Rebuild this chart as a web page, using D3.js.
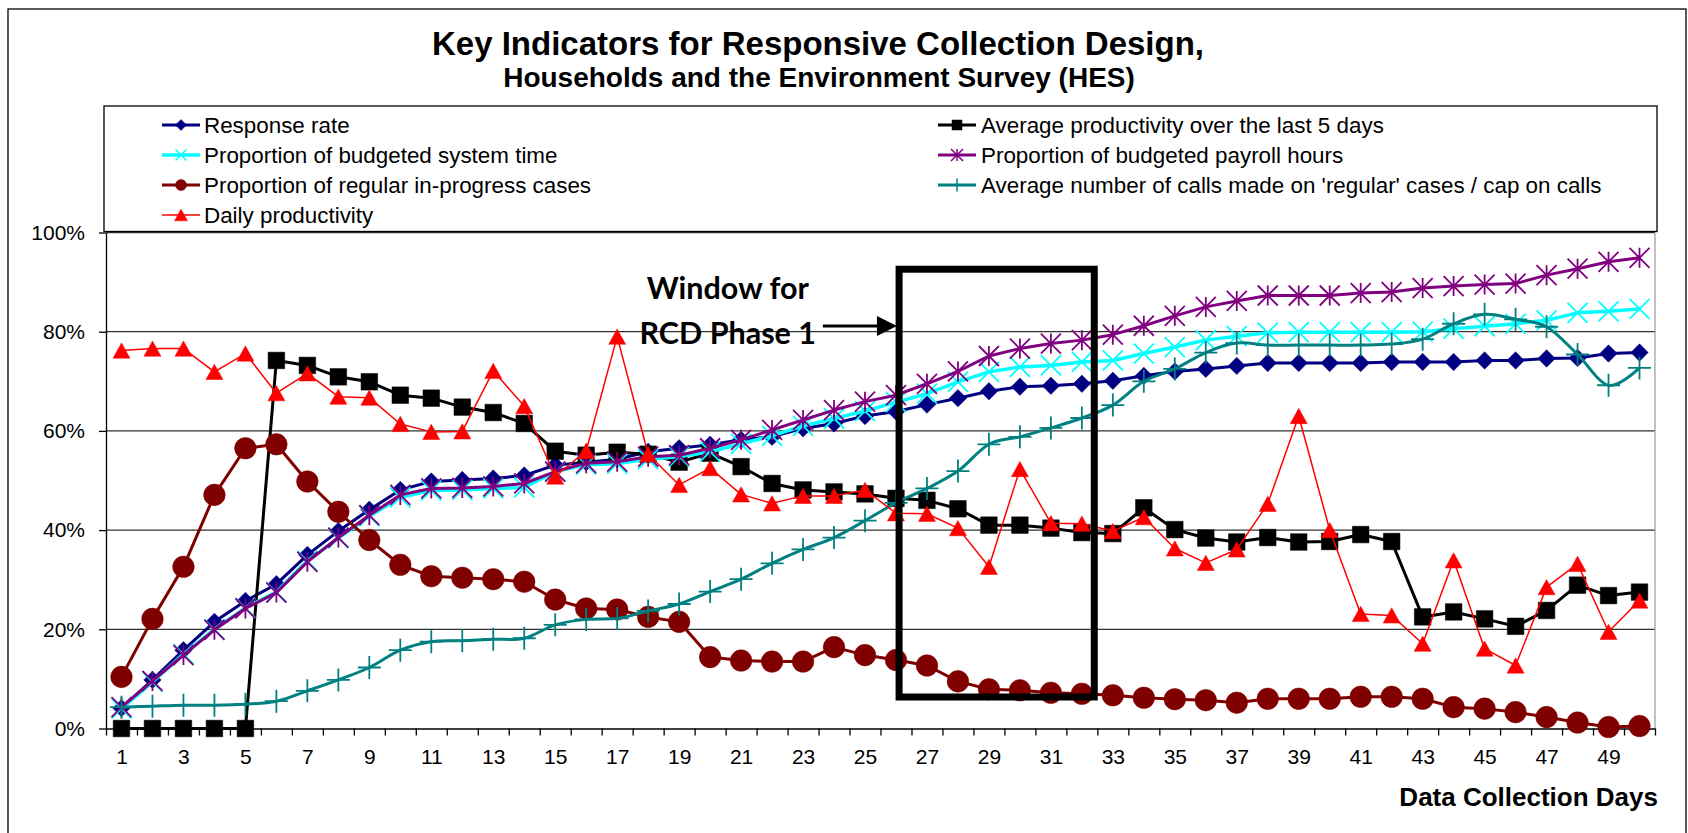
<!DOCTYPE html>
<html><head><meta charset="utf-8">
<script src="https://cdn.jsdelivr.net/npm/d3@7"></script>
<style>body{margin:0;background:#fff}svg{display:block}</style>
</head><body>
<svg id="c" width="1688" height="833"></svg>
<script>
// ---------------- DATA ----------------
const days = [1,2,3,4,5,6,7,8,9,10,11,12,13,14,15,16,17,18,19,20,21,22,23,24,25,26,27,28,29,30,31,32,33,34,35,36,37,38,39,40,41,42,43,44,45,46,47,48,49,50];
const xTickLabels = [1,3,5,7,9,11,13,15,17,19,21,23,25,27,29,31,33,35,37,39,41,43,45,47,49];
const yTickValues = [0,0.2,0.4,0.6,0.8,1];

const seriesNames = [
  "Response rate",
  "Average productivity over the last 5 days",
  "Proportion of budgeted system time",
  "Proportion of budgeted payroll hours",
  "Proportion of regular in-progress cases",
  "Average number of calls made on 'regular' cases / cap on calls",
  "Daily productivity"
];

const responseRate = [4.1,9.8,15.8,21.5,25.7,29.1,35.0,39.8,44.1,48.1,49.8,50.1,50.4,51.0,53.1,53.7,54.3,55.8,56.5,57.2,58.2,58.8,60.5,61.5,63.0,63.9,65.3,66.6,68.0,68.9,69.1,69.5,70.1,71.1,72.0,72.5,73.1,73.7,73.7,73.7,73.7,73.9,73.9,73.9,74.2,74.2,74.6,74.7,75.6,75.8];
const avgProductivity5 = [0,0,0,0,0,74.2,73.2,70.9,69.9,67.2,66.6,64.8,63.7,61.5,55.9,55.1,55.7,55.3,53.7,55.5,52.8,49.4,48.1,47.7,47.3,46.4,46.0,44.3,41.0,41.0,40.4,39.5,39.3,44.5,40.1,38.4,37.6,38.5,37.6,37.7,39.1,37.7,22.5,23.5,22.1,20.6,23.8,28.9,26.8,27.5];
const systemTime = [4.0,9.4,15.0,20.0,24.3,27.5,33.8,38.4,42.8,46.6,48.0,48.1,48.4,48.6,51.8,53.2,53.4,54.3,54.8,55.8,57.4,59.0,61.0,62.5,64.0,65.8,67.5,69.9,71.9,72.9,73.2,73.9,74.2,75.6,76.9,78.3,79.1,79.8,79.9,79.9,79.9,79.9,80.0,80.6,81.1,81.6,82.3,83.8,84.1,84.6];
const payrollHours = [4.3,9.6,14.8,19.9,24.2,27.4,33.6,38.5,43.0,47.1,48.4,48.5,48.8,49.4,51.8,53.5,53.8,54.8,55.1,56.5,58.2,60.2,62.2,64.2,65.9,67.2,69.5,72.0,75.1,76.6,77.6,78.3,79.4,81.2,83.2,85.0,86.2,87.3,87.3,87.3,87.8,88.0,88.8,89.2,89.5,89.7,91.4,92.7,94.1,94.9];
const inProgress = [10.4,22.1,32.6,47.1,56.5,57.3,49.8,43.7,38.0,33.0,30.7,30.4,30.1,29.6,26.0,24.2,24.0,22.5,21.5,14.4,13.7,13.5,13.5,16.4,14.8,13.8,12.7,9.5,7.9,7.7,7.2,7.0,6.7,6.2,5.9,5.7,5.2,6.0,6.0,6.0,6.4,6.4,6.0,4.3,4.0,3.3,2.3,1.2,0.3,0.5];
const callsCap = [4.3,4.5,4.7,4.7,4.9,5.5,7.6,9.8,12.3,15.8,17.5,17.7,18.0,18.2,20.9,22.0,22.2,23.7,25.1,27.6,30.1,33.3,36.1,38.5,41.9,45.5,48.4,51.9,57.3,58.8,60.6,62.6,65.2,70.0,72.5,75.8,77.7,77.3,77.3,77.3,77.3,77.5,78.5,81.6,83.5,82.5,81.0,75.4,69.2,72.7];
const dailyProductivity = [76.2,76.6,76.6,71.9,75.6,67.6,71.6,66.9,66.7,61.4,59.8,59.9,72.1,65.0,50.8,56.0,79.0,55.3,49.1,52.5,47.2,45.4,46.9,46.9,48.1,43.4,43.3,40.4,32.6,52.3,41.4,41.3,39.8,42.6,36.3,33.4,36.1,45.3,63.0,40.0,23.1,22.8,17.1,33.9,16.1,12.7,28.5,33.2,19.5,25.8];

const seriesValues = [responseRate, avgProductivity5, systemTime, payrollHours, inProgress, callsCap, dailyProductivity];

const titleText = "Key Indicators for Responsive Collection Design,";
const subtitleText = "Households and the Environment Survey (HES)";
const xAxisTitle = "Data Collection Days";
const annotationLines = ["Window for", "RCD Phase 1"];

// ---------------- STYLES ----------------
const styles = [
  {color:"#000080", marker:"diamond", size:8.7, lw:3, legSize:5.5, smooth:false},
  {color:"#000000", marker:"square", size:8.3, lw:3, legSize:5, smooth:false},
  {color:"#00FFFF", marker:"x", size:10, lw:3.5, legSize:5.5, smooth:false},
  {color:"#800080", marker:"asterisk", size:10, lw:3, legSize:6, smooth:false},
  {color:"#800000", marker:"circle", size:10.8, lw:3, legSize:5.5, smooth:false},
  {color:"#008080", marker:"plus", size:11.5, lw:3, legSize:6.5, smooth:true},
  {color:"#FF0000", marker:"triangle", size:8.5, lw:1.5, legSize:6.5, smooth:false}
];

function markerPath(type, s){
  switch(type){
    case "diamond": return `M0,${-s}L${s},0L0,${s}L${-s},0Z`;
    case "square": return `M${-s},${-s}h${2*s}v${2*s}h${-2*s}Z`;
    case "circle": return `M${-s},0a${s},${s} 0 1,0 ${2*s},0a${s},${s} 0 1,0 ${-2*s},0Z`;
    case "triangle": return `M0,${-0.9*s}L${s},${0.9*s}L${-s},${0.9*s}Z`;
    case "x": return `M${-s},${-s}L${s},${s}M${-s},${s}L${s},${-s}`;
    case "asterisk": return `M${-s},${-s}L${s},${s}M${-s},${s}L${s},${-s}M0,${-s}L0,${s}`;
    case "plus": return `M${-s},0L${s},0M0,${-s}L0,${s}`;
  }
}
const strokeMarkers = new Set(["x","asterisk","plus"]);

// ---------------- LAYOUT ----------------
const svg = d3.select("#c");
const plot = {left:106, right:1655, top:232.5, bottom:728.5};
const x = d3.scaleLinear().domain([0.5, 50.5]).range([plot.left, plot.right]);
const y = d3.scaleLinear().domain([0, 1]).range([plot.bottom, plot.top]);

// outer border
svg.append("rect").attr("x",8).attr("y",9).attr("width",1678).attr("height",840)
  .attr("fill","none").attr("stroke","#000").attr("stroke-width",1.3);

// titles
svg.append("text").attr("x",818).attr("y",55).attr("text-anchor","middle")
  .attr("font-family","'Liberation Sans', Arial, sans-serif").attr("font-weight","bold").attr("font-size",33)
  .text(titleText);
svg.append("text").attr("x",819).attr("y",87).attr("text-anchor","middle")
  .attr("font-family","'Liberation Sans', Arial, sans-serif").attr("font-weight","bold").attr("font-size",28)
  .text(subtitleText);

// gridlines
svg.append("g").selectAll("line").data(yTickValues.filter(v=>v>0)).join("line")
  .attr("x1",plot.left).attr("x2",plot.right).attr("y1",d=>y(d)).attr("y2",d=>y(d))
  .attr("stroke","#333").attr("stroke-width",1.3);
// plot right border
svg.append("line").attr("x1",plot.right).attr("x2",plot.right).attr("y1",plot.top).attr("y2",plot.bottom)
  .attr("stroke","#999").attr("stroke-width",1.2);

// y axis
const yAxis = svg.append("g").attr("transform",`translate(${plot.left},0)`)
  .call(d3.axisLeft(y).tickValues(yTickValues).tickFormat(d3.format(".0%")).tickSize(7).tickPadding(14).tickSizeOuter(0));
yAxis.selectAll("text").attr("font-family","'Liberation Sans', Arial, sans-serif").attr("font-size",21).attr("fill","#000");
yAxis.selectAll("line,path").attr("stroke","#000").attr("stroke-width",1.3);

// x axis ticks at category boundaries
const boundaries = days.map(d=>d-0.5).concat([days[days.length-1]+0.5]);
const xAxis = svg.append("g").attr("transform",`translate(0,${plot.bottom})`)
  .call(d3.axisBottom(x).tickValues(boundaries).tickFormat("").tickSize(7).tickSizeOuter(0));
xAxis.selectAll("line,path").attr("stroke","#000").attr("stroke-width",1.3);
const xLab = svg.append("g").attr("transform",`translate(0,${plot.bottom})`)
  .call(d3.axisBottom(x).tickValues(xTickLabels).tickFormat(d3.format("d")).tickSize(0).tickPadding(21));
xLab.select(".domain").remove();
xLab.selectAll("text").attr("font-family","'Liberation Sans', Arial, sans-serif").attr("font-size",21).attr("fill","#000");

svg.append("text").attr("x",1658).attr("y",806).attr("text-anchor","end")
  .attr("font-family","'Liberation Sans', Arial, sans-serif").attr("font-weight","bold").attr("font-size",26)
  .text(xAxisTitle);

// series
seriesValues.forEach((vals,i)=>{
  const st = styles[i];
  const pts = days.map((d,j)=>({day:d, v:vals[j]/100}));
  const line = d3.line().x(p=>x(p.day)).y(p=>y(p.v))
    .curve(st.smooth ? d3.curveCatmullRom.alpha(0) : d3.curveLinear);
  const g = svg.append("g");
  g.append("path").attr("d",line(pts)).attr("fill","none").attr("stroke",st.color)
    .attr("stroke-width",st.lw).attr("stroke-linejoin","round");
  const isStroke = strokeMarkers.has(st.marker);
  g.selectAll("path.m").data(pts).join("path").attr("class","m")
    .attr("transform",p=>`translate(${x(p.day)},${y(p.v)})`)
    .attr("d",markerPath(st.marker, st.size))
    .attr("fill", isStroke ? "none" : st.color)
    .attr("stroke", st.color)
    .attr("stroke-width", isStroke ? 1.8 : 0.5);
});

// annotation window
const win = {d0:26.1, d1:32.4, v0:0.0635, v1:0.926};
svg.append("rect").attr("x",x(win.d0)).attr("y",y(win.v1))
  .attr("width",x(win.d1)-x(win.d0)).attr("height",y(win.v0)-y(win.v1))
  .attr("fill","none").attr("stroke","#000").attr("stroke-width",7);
const annX = x(20.57);
svg.append("text").attr("x",annX).attr("y",y(0.866)).attr("text-anchor","middle")
  .attr("font-family","Lato, 'Open Sans', sans-serif").attr("font-weight","bold").attr("font-size",30.5)
  .text(annotationLines[0]);
svg.append("text").attr("x",annX).attr("y",y(0.775)).attr("text-anchor","middle")
  .attr("font-family","Lato, 'Open Sans', sans-serif").attr("font-weight","bold").attr("font-size",30.5)
  .text(annotationLines[1]);
const ay = y(0.8115), ax0 = x(23.64), ax1 = x(26.03);
svg.append("line").attr("x1",ax0).attr("x2",ax1-18).attr("y1",ay).attr("y2",ay)
  .attr("stroke","#000").attr("stroke-width",3);
svg.append("path").attr("d",`M${ax1},${ay}L${ax1-20},${ay-10}L${ax1-20},${ay+10}Z`).attr("fill","#000");

// legend
svg.append("rect").attr("x",104).attr("y",106).attr("width",1553).attr("height",125.5)
  .attr("fill","#fff").attr("stroke","#000").attr("stroke-width",1.3);
const legendCols = [{x0:162, x1:200, tx:204}, {x0:938, x1:976, tx:981}];
seriesNames.forEach((name,i)=>{
  const st = styles[i];
  const col = legendCols[i%2];
  const row = Math.floor(i/2);
  const cy = 125 + row*30;
  const g = svg.append("g");
  g.append("line").attr("x1",col.x0).attr("x2",col.x1).attr("y1",cy).attr("y2",cy)
    .attr("stroke",st.color).attr("stroke-width",st.lw);
  const isStroke = strokeMarkers.has(st.marker);
  g.append("path").attr("transform",`translate(${(col.x0+col.x1)/2},${cy})`)
    .attr("d",markerPath(st.marker, st.legSize))
    .attr("fill", isStroke ? "none" : st.color).attr("stroke",st.color)
    .attr("stroke-width", isStroke ? 1.5 : 0.5);
  g.append("text").attr("x",col.tx).attr("y",cy).attr("dy","0.36em")
    .attr("font-family","'Liberation Sans', Arial, sans-serif").attr("font-size",22.4)
    .text(name);
});
</script>
</body></html>
